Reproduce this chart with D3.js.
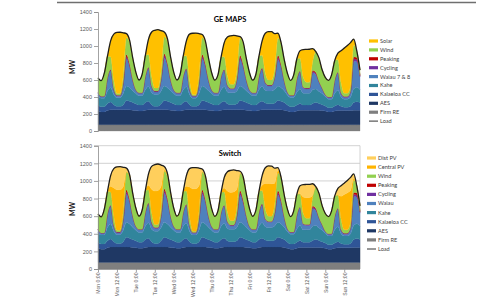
<!DOCTYPE html>
<html><head><meta charset="utf-8">
<script src="https://cdn.jsdelivr.net/npm/d3@7"></script>
<style>
body{margin:0;background:#fff;}
svg{display:block;font-family:Lato,"Open Sans",sans-serif;}
</style></head><body>
<svg id="chart" width="477" height="298"></svg>
<script>
// one sample every 2 hours, Mon 0:00 .. Sun 22:00
var hours = d3.range(0, 167, 2);
var tickHours = [0,12,24,36,48,60,72,84,96,108,120,132,144,156];
var tickLabels = ["Mon 0:00","Mon 12:00","Tue 0:00","Tue 12:00","Wed 0:00","Wed 12:00","Thu 0:00",
  "Thu 12:00","Fri 0:00","Fri 12:00","Sat 0:00","Sat 12:00","Sun 0:00","Sun 12:00"];
var yTicks = [0,200,400,600,800,1000,1200,1400];

var load = [
  625,592,680,880,1060,1140,1160,1162,1155,1145,1070,860,
  690,600,670,890,1080,1165,1185,1192,1180,1165,1085,870,
  690,600,665,880,1060,1140,1150,1152,1145,1135,1060,860,
  685,598,660,870,1040,1105,1120,1125,1118,1110,1045,850,
  685,598,665,880,1060,1150,1170,1168,1145,1150,1040,840,
  680,595,660,850,945,958,960,962,968,935,860,720,
  630,595,660,830,915,945,975,1005,1040,1080,940,717];
var firmRE = [
  75,75,75,75,75,75,75,75,75,75,75,75,
  75,75,75,75,75,75,75,75,75,75,75,75,
  75,75,75,75,75,75,75,75,75,75,75,75,
  75,75,75,75,75,75,75,75,75,75,75,75,
  75,75,75,75,75,75,75,75,75,75,75,75,
  75,75,75,75,75,75,75,75,75,75,75,75,
  75,75,75,75,75,75,75,75,75,75,75,75];
var aes = [
  160,150,150,165,175,175,175,175,175,175,175,170,
  165,160,160,170,175,175,175,175,175,175,175,170,
  165,160,160,170,175,175,175,175,175,175,175,170,
  165,160,160,170,175,175,175,175,175,175,175,170,
  165,160,160,170,175,175,175,175,175,175,175,170,
  160,150,150,160,170,170,170,170,170,170,170,165,
  160,150,150,160,165,165,165,165,165,170,170,170];
var kalaeloa = [
  70,60,60,80,90,60,40,40,60,110,100,90,
  80,70,70,90,100,60,40,40,70,110,100,90,
  80,70,70,90,100,60,40,40,60,110,100,90,
  80,70,70,90,100,70,60,60,70,110,100,90,
  80,70,70,90,100,80,70,70,80,110,100,90,
  70,60,60,70,80,60,60,60,80,90,80,70,
  60,50,50,60,70,50,40,40,50,90,100,90];
var kahe = [
  110,100,100,150,170,120,100,100,130,170,160,140,
  120,110,110,150,175,140,140,140,150,170,160,140,
  120,110,110,150,170,120,95,95,130,170,160,140,
  120,110,110,150,170,140,140,140,150,170,160,140,
  120,110,110,150,175,150,150,150,160,170,160,140,
  120,110,110,150,170,140,140,140,160,160,140,130,
  110,100,100,150,170,110,95,95,110,160,170,150];
var waiau = [
  30,20,20,150,200,60,20,20,120,320,250,120,
  40,30,30,150,210,70,30,30,130,330,260,120,
  40,30,30,150,200,60,20,20,120,320,250,120,
  40,30,30,150,190,70,40,40,130,310,240,120,
  40,30,30,150,200,80,60,60,140,310,240,110,
  30,20,20,150,200,60,50,50,200,170,110,60,
  20,20,20,150,200,40,20,20,60,330,300,150];
var cycling = [
  5,5,5,10,15,10,10,10,10,25,20,10,
  5,5,5,10,15,10,10,10,10,25,20,10,
  5,5,5,10,15,10,10,10,10,25,20,10,
  5,5,5,10,15,10,10,10,10,25,20,10,
  5,5,5,10,15,10,10,10,10,25,20,10,
  5,5,5,10,10,10,10,10,15,15,10,5,
  5,5,5,5,10,10,10,10,10,25,25,15];
var peaking = [
  0,0,0,0,0,0,0,0,5,25,10,0,
  0,0,0,0,0,0,0,0,5,25,10,0,
  0,0,0,0,0,0,0,0,5,25,10,0,
  0,0,0,0,0,0,0,0,5,25,10,0,
  0,0,0,0,0,0,0,0,5,25,10,0,
  0,0,0,0,0,0,0,0,15,10,0,0,
  0,0,0,0,0,0,0,0,0,20,25,5];
var wind = [
  220,200,300,250,150,100,20,20,80,200,250,250,
  220,200,300,250,150,110,35,35,90,200,250,250,
  220,200,300,250,150,100,15,15,80,200,250,250,
  220,200,300,250,150,110,50,50,90,200,250,250,
  220,200,300,250,150,110,60,60,90,200,250,250,
  220,200,300,250,150,120,70,70,100,250,250,250,
  220,200,300,250,150,120,40,40,60,140,250,250];
var distPV = [
  0,0,0,10,120,220,260,260,220,40,0,0,
  0,0,0,10,130,260,300,300,240,40,0,0,
  0,0,0,10,120,210,240,240,200,30,0,0,
  0,0,0,10,120,220,250,250,210,30,0,0,
  0,0,0,10,110,180,200,200,170,30,0,0,
  0,0,0,10,90,140,150,150,130,20,0,0,
  0,0,0,10,80,120,130,140,150,50,0,0];

var colors = {
  firmRE:"#7f7f7f", aes:"#1f3864", kalaeloa:"#2f5597", kahe:"#31859c", waiau:"#4f81bd",
  cycling:"#7030a0", peaking:"#c00000", wind:"#92d050", solar:"#ffc000",
  central:"#ffb400", dist:"#ffcf5c"
};
var baseKeys = ["firmRE","aes","kalaeloa","kahe","waiau","cycling","peaking","wind"];

var rows = hours.map(function(h, i){
  return {h:h, load:load[i], firmRE:firmRE[i], aes:aes[i], kalaeloa:kalaeloa[i], kahe:kahe[i],
    waiau:waiau[i], cycling:cycling[i], peaking:peaking[i], wind:wind[i], distPV:distPV[i]};
});
rows.forEach(function(r){
  var below = d3.sum(baseKeys, function(k){ return r[k]; });
  r.solar = Math.max(0, r.load - below);
  r.dist = r.distPV;
  r.central = Math.max(0, r.load - below - r.distPV);
});

var svg = d3.select("#chart");
var x = d3.scaleLinear().domain([0,166]).range([98,360]);

// thin rule on top of the figure
svg.append("line").attr("x1",57).attr("x2",476).attr("y1",2.5).attr("y2",2.5)
  .style("stroke","#6f6f6f").style("stroke-width","1.5px");

function panel(opts){
  var y = d3.scaleLinear().domain([0,1400]).range([opts.y0, opts.y1]);
  var g = svg.append("g");

  if(opts.grid){
    g.selectAll("line.grid").data(yTicks.slice(1)).enter().append("line")
      .attr("x1",98).attr("x2",360)
      .attr("y1",function(d){ return y(d); }).attr("y2",function(d){ return y(d); })
      .style("stroke","#c6c6c6").style("stroke-width","0.8px");
    g.append("line").attr("x1",360).attr("x2",360).attr("y1",y(1400)).attr("y2",y(0))
      .style("stroke","#c6c6c6").style("stroke-width","0.8px");
  }

  var series = d3.stack().keys(opts.keys)(rows);
  series.forEach(function(s){
    s.forEach(function(p){
      p.c0 = Math.min(p[0], p.data.load);
      p.c1 = Math.min(p[1], p.data.load);
    });
  });
  var area = d3.area()
    .x(function(d){ return x(d.data.h); })
    .y0(function(d){ return y(d.c0); })
    .y1(function(d){ return y(d.c1); })
    .curve(d3.curveMonotoneX);
  g.selectAll("path.layer").data(series).enter().append("path")
    .attr("d", area)
    .style("fill", function(d){ return colors[d.key]; })
    .style("stroke", function(d){ return colors[d.key]; })
    .style("stroke-width","0.3px");

  var line = d3.line().x(function(d){ return x(d.h); }).y(function(d){ return y(d.load); })
    .curve(d3.curveMonotoneX);
  g.append("path").datum(rows).attr("d", line)
    .style("fill","none").style("stroke","#1e1e1e").style("stroke-width","1.3px");

  var yAxis = g.append("g").attr("transform","translate(98,0)")
    .call(d3.axisLeft(y).tickValues(yTicks).tickSize(4).tickFormat(d3.format("d")));
  yAxis.selectAll("path,line").style("stroke","#8c8c8c").style("stroke-width","0.8px");
  yAxis.selectAll("text").style("font-size","5.5px").style("fill","#595959").attr("x",-6);

  if(opts.xLabels){
    var xAxis = g.append("g").attr("transform","translate(0," + y(0) + ")")
      .call(d3.axisBottom(x).tickValues(tickHours).tickSize(3)
        .tickFormat(function(d, i){ return tickLabels[i]; }));
    xAxis.select("path").attr("d","M98,0.5H360");
    xAxis.selectAll("path,line").style("stroke","#8c8c8c").style("stroke-width","0.8px");
    xAxis.selectAll("text").style("font-size","5.1px").style("fill","#595959")
      .attr("transform","rotate(-90)").attr("x",-3.5).attr("y",0).attr("dy","0.35em")
      .style("text-anchor","end");
  }

  svg.append("text").attr("x",230).attr("y",opts.titleY).text(opts.title)
    .style("text-anchor","middle").style("font-weight","bold").style("font-size","7.5px")
    .style("fill","#000");
  svg.append("text").attr("transform","translate(75," + opts.mwY + ") rotate(-90)").text("MW")
    .style("text-anchor","middle").style("font-weight","bold").style("font-size","7px")
    .style("fill","#222");

  var lg = svg.append("g");
  opts.legend.forEach(function(item, i){
    var ly = opts.legY + i * opts.legStep;
    if(item.key == "load"){
      lg.append("line").attr("x1",opts.legX).attr("x2",opts.legX + 9).attr("y1",ly).attr("y2",ly)
        .style("stroke","#333").style("stroke-width","1px");
    } else {
      lg.append("rect").attr("x",opts.legX).attr("y",ly - 1.6).attr("width",9).attr("height",3.2)
        .style("fill",colors[item.key]);
    }
    lg.append("text").attr("x",opts.legX + 11).attr("y",ly).attr("dy","0.35em").text(item.label)
      .style("font-size","5.6px").style("fill","#404040");
  });
}

panel({
  y0:131, y1:12, grid:false, xLabels:false,
  keys: baseKeys.concat(["solar"]),
  title:"GE MAPS", titleY:22, mwY:67,
  legX:369, legY:41, legStep:8.9,
  legend:[{key:"solar",label:"Solar"},{key:"wind",label:"Wind"},{key:"peaking",label:"Peaking"},
    {key:"cycling",label:"Cycling"},{key:"waiau",label:"Waiau 7 & 8"},{key:"kahe",label:"Kahe"},
    {key:"kalaeloa",label:"Kalaeloa CC"},{key:"aes",label:"AES"},{key:"firmRE",label:"Firm RE"},
    {key:"load",label:"Load"}]
});

panel({
  y0:269, y1:145.7, grid:true, xLabels:true,
  keys: baseKeys.concat(["central","dist"]),
  title:"Switch", titleY:156, mwY:209,
  legX:367, legY:158, legStep:9.1,
  legend:[{key:"dist",label:"Dist PV"},{key:"central",label:"Central PV"},{key:"wind",label:"Wind"},
    {key:"peaking",label:"Peaking"},{key:"cycling",label:"Cycling"},{key:"waiau",label:"Waiau"},
    {key:"kahe",label:"Kahe"},{key:"kalaeloa",label:"Kalaeloa CC"},{key:"aes",label:"AES"},
    {key:"firmRE",label:"Firm RE"},{key:"load",label:"Load"}]
});
</script>
</body></html>
